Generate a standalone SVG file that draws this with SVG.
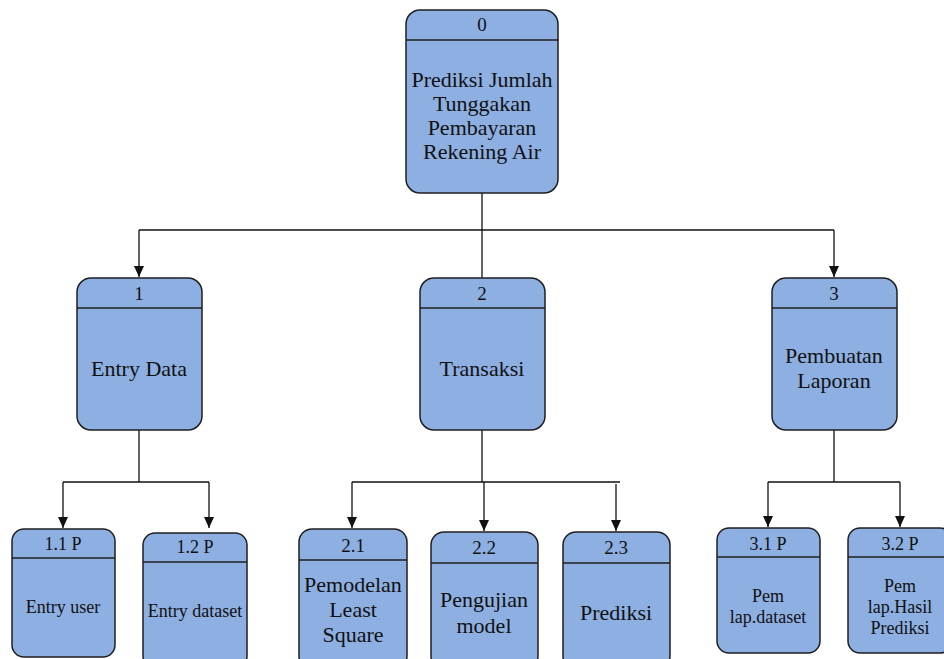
<svg xmlns="http://www.w3.org/2000/svg" width="944" height="659" viewBox="0 0 944 659">
<style>
.box{fill:#8DAFE2;stroke:#1f1f1f;stroke-width:1.5}
.hl{stroke:#1f1f1f;stroke-width:1.5}
.t{font-family:"Liberation Serif","Times New Roman",serif;fill:#111;text-anchor:middle}
.b{font-size:22px}
.h{font-size:19px}
.s{font-size:18px}
.c{fill:none;stroke:#111;stroke-width:1.3}
</style>
<defs>
<marker id="ah" markerUnits="userSpaceOnUse" markerWidth="12" markerHeight="12" viewBox="0 0 12 12" refX="11" refY="6" orient="auto">
<path d="M0,1 L11,6 L0,11 Z" fill="#111"/>
</marker>
</defs>
<rect width="944" height="659" fill="#fff"/>
<g id="connectors">
<path class="c" d="M482,193 V278"/>
<path class="c" d="M139,230 H834"/>
<path class="c" d="M139,230 V277" marker-end="url(#ah)"/>
<path class="c" d="M834,230 V277" marker-end="url(#ah)"/>
<path class="c" d="M139,430 V482 M63,482 H209"/>
<path class="c" d="M63,482 V528" marker-end="url(#ah)"/>
<path class="c" d="M209,482 V528" marker-end="url(#ah)"/>
<path class="c" d="M482,430 V482 M352,482 H620"/>
<path class="c" d="M352,482 V528" marker-end="url(#ah)"/>
<path class="c" d="M484,482 V531" marker-end="url(#ah)"/>
<path class="c" d="M616,484 V531" marker-end="url(#ah)"/>
<path class="c" d="M834,430 V482 M768,482 H900"/>
<path class="c" d="M768,482 V527" marker-end="url(#ah)"/>
<path class="c" d="M900,482 V527" marker-end="url(#ah)"/>
</g>
<g id="n0">
<rect class="box" x="406" y="10" width="152" height="183" rx="14"/>
<line class="hl" x1="406" y1="40" x2="558" y2="40"/>
<text class="t h" x="482" y="31">0</text>
<text class="t b" x="482" y="87">Prediksi Jumlah</text>
<text class="t b" x="482" y="111">Tunggakan</text>
<text class="t b" x="482" y="135">Pembayaran</text>
<text class="t b" x="482" y="159">Rekening Air</text>
</g>
<g id="n1">
<rect class="box" x="77" y="278" width="125" height="152" rx="14"/>
<line class="hl" x1="77" y1="308" x2="202" y2="308"/>
<text class="t h" x="139" y="300">1</text>
<text class="t b" x="139" y="376">Entry Data</text>
</g>
<g id="n2">
<rect class="box" x="420" y="278" width="125" height="152" rx="14"/>
<line class="hl" x1="420" y1="308" x2="545" y2="308"/>
<text class="t h" x="482" y="300">2</text>
<text class="t b" x="482" y="376">Transaksi</text>
</g>
<g id="n3">
<rect class="box" x="772" y="278" width="125" height="152" rx="14"/>
<line class="hl" x1="772" y1="308" x2="897" y2="308"/>
<text class="t h" x="834" y="300">3</text>
<text class="t b" x="834" y="363">Pembuatan</text>
<text class="t b" x="834" y="388">Laporan</text>
</g>
<g id="n1_1">
<rect class="box" x="12" y="529" width="103" height="128" rx="12"/>
<line class="hl" x1="12" y1="558" x2="115" y2="558"/>
<text class="t s" x="63" y="550">1.1 P</text>
<text class="t s" x="63" y="613">Entry user</text>
</g>
<g id="n1_2">
<rect class="box" x="143" y="533" width="104" height="135" rx="12"/>
<line class="hl" x1="143" y1="562" x2="247" y2="562"/>
<text class="t s" x="195" y="553">1.2 P</text>
<text class="t s" x="195" y="617">Entry dataset</text>
</g>
<g id="n2_1">
<rect class="box" x="299" y="529" width="108" height="140" rx="13"/>
<line class="hl" x1="299" y1="560" x2="407" y2="560"/>
<text class="t h" x="353" y="552">2.1</text>
<text class="t b" x="353" y="592">Pemodelan</text>
<text class="t b" x="353" y="617">Least</text>
<text class="t b" x="353" y="642">Square</text>
</g>
<g id="n2_2">
<rect class="box" x="431" y="532" width="107" height="137" rx="13"/>
<line class="hl" x1="431" y1="563" x2="538" y2="563"/>
<text class="t h" x="484" y="554">2.2</text>
<text class="t b" x="484" y="607">Pengujian</text>
<text class="t b" x="484" y="633">model</text>
</g>
<g id="n2_3">
<rect class="box" x="563" y="532" width="107" height="137" rx="13"/>
<line class="hl" x1="563" y1="563" x2="670" y2="563"/>
<text class="t h" x="616" y="554">2.3</text>
<text class="t b" x="616" y="620">Prediksi</text>
</g>
<g id="n3_1">
<rect class="box" x="717" y="528" width="103" height="125" rx="12"/>
<line class="hl" x1="717" y1="557" x2="820" y2="557"/>
<text class="t s" x="768" y="550">3.1 P</text>
<text class="t s" x="768" y="602">Pem</text>
<text class="t s" x="768" y="623">lap.dataset</text>
</g>
<g id="n3_2">
<rect class="box" x="848" y="528" width="104" height="125" rx="12"/>
<line class="hl" x1="848" y1="557" x2="952" y2="557"/>
<text class="t s" x="900" y="550">3.2 P</text>
<text class="t s" x="900" y="592">Pem</text>
<text class="t s" x="900" y="613">lap.Hasil</text>
<text class="t s" x="900" y="634">Prediksi</text>
</g>
</svg>
